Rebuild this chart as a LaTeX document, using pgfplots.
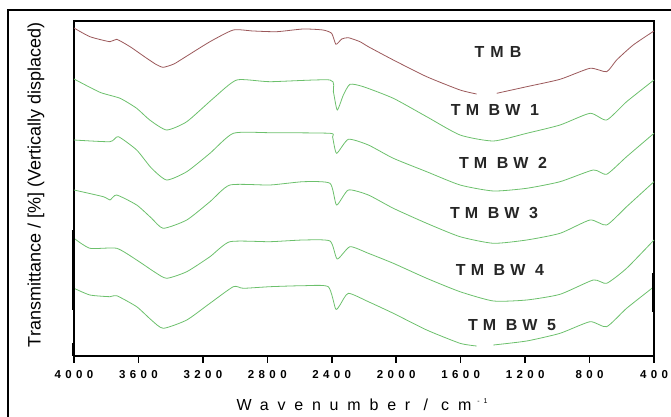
\documentclass[border=0pt]{standalone}
\usepackage{pgfplots}
\pgfplotsset{compat=1.18}
\usepackage{fontspec}
\setmainfont{Liberation Sans}
\newfontfamily\tickfont[LetterSpace=38]{Liberation Sans}
\newfontfamily\labfont[LetterSpace=32]{Liberation Sans}
\newfontfamily\xlabfont[LetterSpace=55]{Liberation Sans}
\definecolor{tmbred}{RGB}{155,88,90}
\definecolor{tmbgreen}{RGB}{108,192,108}

% spectra: wavenumber vs. displaced transmittance (arb.)
\pgfplotstableread{
w y
4000 349
3901 340.3
3777 335.3
3735 337.7
3652 330.3
3560 320
3490 312.5
3446 309.7
3380 313
3322 318.7
3156 335.3
3011 347
2889 346
2742 345.3
2577 348
2455 347
2401 343.7
2374 332.7
2338 338
2297 339.3
2225 335.3
2173 330.3
2018 317
1811 300.3
1604 287
1501 283
1440 nan
1376 283.7
1190 290.3
983 297.7
797 308.7
694 305.3
632 317
529 332
400 346
}\tmb
\pgfplotstableread{
w y
4000 298
3839 284.7
3714 278.7
3611 268.7
3530 257
3425 247
3300 255.3
3135 278.7
2990 297
2783 295.3
2411 297
2390 285.3
2366 267
2328 282
2287 292.7
2204 290.3
2018 278.7
1811 260.3
1604 242
1397 236
1190 243.7
983 252
797 263.7
694 257
570 275.3
400 297
}\wone
\pgfplotstableread{
w y
4000 237
3777 235.3
3725 240.3
3611 227
3520 209
3425 197
3300 205.3
3156 223.7
3011 243.7
2783 244.3
2411 243.7
2395 240
2370 223.7
2297 237.7
2173 232
2018 218.7
1811 205.3
1604 192
1397 186
1190 188.7
983 195.3
777 207
694 202.7
570 220.3
400 243.7
}\wtwo
\pgfplotstableread{
w y
4000 187
3818 180.3
3777 177
3735 182
3611 172
3520 159
3446 148.7
3300 157
3156 175.3
3032 192
2783 192
2577 195.3
2411 193.7
2370 172
2297 187
2173 182
2018 168.7
1811 153.7
1604 140.3
1397 133.7
1190 137
983 143.7
797 157
694 152
570 170.3
400 195.3
}\wthree
\pgfplotstableread{
w y
4000 138.7
3901 128.7
3735 128.7
3611 117
3500 105
3425 98.7
3300 105.3
3156 120.3
3032 135.3
2783 135.3
2577 137
2411 136
2366 118
2287 130.3
2173 123.7
2018 113.7
1811 98.7
1604 85.3
1397 76
1190 77
983 82.7
777 97
694 93.7
570 108.7
400 137
}\wfour
\pgfplotstableread{
w y
4000 88.7
3901 82
3777 80.3
3735 81.3
3611 70.3
3520 57
3446 48.7
3300 57
3156 73.7
3011 90.3
2949 88.7
2783 90.3
2577 91.3
2422 90.3
2376 68
2349 72
2297 83.7
2173 75.3
2018 63.7
1811 47
1604 33.7
1501 31
1450 nan
1397 32
1190 36
983 43.7
797 55.3
694 50.3
570 68.7
400 90.3
}\wfive

\begin{document}
\begin{tikzpicture}
\useasboundingbox (0,0) rectangle (671pt,417pt);
\draw[line width=1.3pt] (690pt,407pt) -- (8pt,407pt) -- (8pt,-10pt);
\begin{axis}[
    at={(74pt,61pt)}, anchor=south west,
    scale only axis, width=580pt, height=335pt,
    xmin=400, xmax=4000, x dir=reverse,
    ymin=21, ymax=356,
    axis line style={line width=1.6pt, black},
    xtick={4000,3600,3200,2800,2400,2000,1600,1200,800,400},
    xticklabels={4000,3600,3200,2800,2400,2000,1600,1200,800,400},
    xticklabel style={font=\tickfont\fontsize{11.5}{12}\selectfont\bfseries, yshift=-4pt},
    ytick=\empty,
    xtick align=outside, xtick pos=bottom,
    major tick length=7pt,
    xtick style={draw=black, line width=1.6pt},
    clip=false,
    unbounded coords=jump,
    every axis plot/.append style={line width=0.8pt, smooth, tension=0.35},
]
\addplot[tmbred] table[x=w,y=y] {\tmb};
\addplot[tmbgreen] table[x=w,y=y] {\wone};
\addplot[tmbgreen] table[x=w,y=y] {\wtwo};
\addplot[tmbgreen] table[x=w,y=y] {\wthree};
\addplot[tmbgreen] table[x=w,y=y] {\wfour};
\addplot[tmbgreen] table[x=w,y=y] {\wfive};
% outward tick marks on the bottom edge
\pgfplotsinvokeforeach{4000,3600,3200,2800,2400,2000,1600,1200,800,400}{
  \draw[black, line width=1.6pt] (axis cs:#1,21) -- ([yshift=-7pt]axis cs:#1,21);
}
% dark patches on the frame
\draw[black, line width=3pt] (axis cs:4000,147) -- (axis cs:4000,67);
\draw[black, line width=3pt] (axis cs:4000,34) -- (axis cs:4000,21);
\draw[black, line width=3pt] (axis cs:400,104) -- (axis cs:400,65);
\begin{scope}[every node/.style={font=\labfont\fontsize{16}{18}\selectfont\bfseries, text=black!85}]
\node at (axis cs:1368,325) {T\hspace{6pt}M\hspace{6pt}B};
\node at (axis cs:1387,267) {TM BW 1};
\node at (axis cs:1337,214) {TM BW 2};
\node at (axis cs:1393,164) {TM BW 3};
\node at (axis cs:1356,107) {TM BW 4};
\node at (axis cs:1281,52) {TM BW 5};
\end{scope}
\end{axis}
\node[font=\xlabfont\fontsize{16}{18}\selectfont] at (362pt,12pt)
  {Wavenumber / cm\hspace{6pt}\raisebox{7pt}{\fontsize{7}{8}\selectfont -1}};
\node[rotate=90, font=\fontsize{18}{20}\selectfont] at (36pt,232pt)
  {Transmittance / [\%] (Vertically displaced)};
\end{tikzpicture}
\end{document}
